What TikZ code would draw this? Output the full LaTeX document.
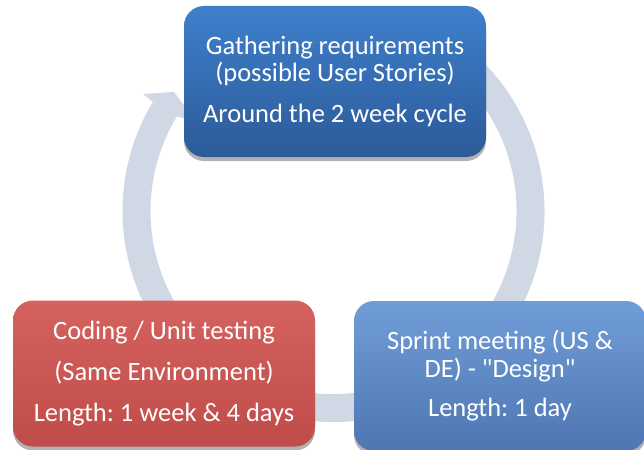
\documentclass[tikz,border=0pt]{standalone}
\usepackage{fontspec}
\setmainfont{Carlito}[Ligatures=TeXOff]
\frenchspacing
\usetikzlibrary{shadows,calc}
\definecolor{ringcol}{RGB}{208,216,230}
\definecolor{topA}{RGB}{62,128,204}
\definecolor{topB}{RGB}{44,90,152}
\definecolor{redA}{RGB}{214,98,95}
\definecolor{redB}{RGB}{192,76,73}
\definecolor{rbA}{RGB}{112,157,216}
\definecolor{rbB}{RGB}{78,118,178}
\tikzset{
  box/.style={rounded corners=20pt, minimum width=302pt, align=center,
    text=white, font=\fontsize{26.5}{27}\selectfont, inner sep=0pt,
    drop shadow={shadow xshift=0pt, shadow yshift=-4pt, opacity=0.3, fill=black}},
  ring/.style={draw=ringcol, line width=28pt},
  head/.style={fill=ringcol}
}
\begin{document}
\begin{tikzpicture}[x=1pt,y=-1pt]
\frenchspacing
\useasboundingbox (0,0) rectangle (644,449);
\clip (0,0) rectangle (644,449);
\fill[white] (0,0) rectangle (644,449);
\coordinate (c) at (333.5,211);
% ring with arrowhead
\draw[ring] ($(c)+(-65:197)$) arc[start angle=-65, end angle=211.1, radius=197];
\coordinate (w1) at (143,94);
\coordinate (tp) at (174,92);
\coordinate (w2) at (196,121);
\fill[head] ($(c)+(211.1:211)$) -- (w1) -- (tp) -- (w2) -- ($(c)+(211.1:183)$) -- cycle;
% boxes
\node[box, minimum height=151pt, top color=topA, bottom color=topB] (gather) at (335,81.5)
  {Gathering requirements\\(possible User Stories)\\[14pt]Around the 2 week cycle};
\node[box, minimum height=146pt, top color=redA, bottom color=redB] (coding) at (164,373.5)
  {Coding / Unit testing\\[14pt](Same Environment)\\[14pt]Length: 1 week \& 4 days};
\node[box, minimum width=292pt, minimum height=150pt, top color=rbA, bottom color=rbB] (sprint) at (500,376)
  {Sprint meeting (US \&\\[1pt]DE) - "Design"\\[12pt]Length: 1 day};
\end{tikzpicture}
\end{document}
